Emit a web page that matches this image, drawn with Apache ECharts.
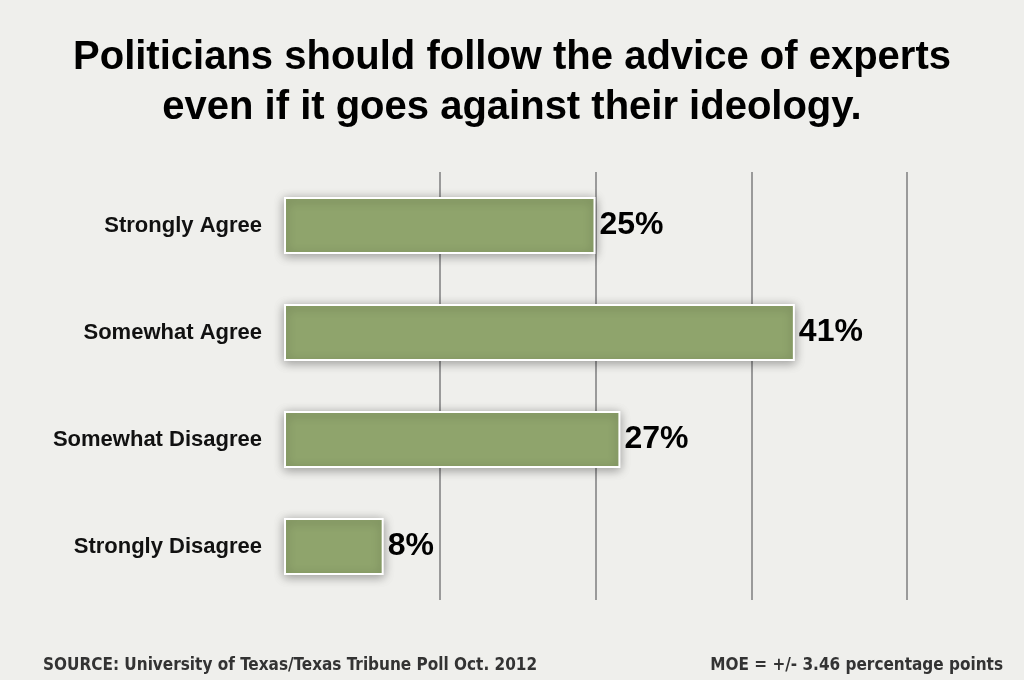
<!DOCTYPE html>
<html>
<head>
<meta charset="utf-8">
<script src="https://cdn.jsdelivr.net/npm/echarts@6/dist/echarts.min.js"></script>
<style>
html, body { margin: 0; padding: 0; background: #efefec; }
#main { width: 1024px; height: 680px; }
</style>
</head>
<body>
<div id="main"></div>
<script>
var categories = ['Strongly Agree', 'Somewhat Agree', 'Somewhat Disagree', 'Strongly Disagree'];
var values = [25, 41, 27, 8];

var chart = echarts.init(document.getElementById('main'));
var option = {
	animation: false,
	backgroundColor: '#efefec',
	title: [{
		text: 'Politicians should follow the advice of experts\neven if it goes against their ideology.',
		left: 'center',
		top: 28,
		textStyle: {
			color: '#000',
			fontSize: 40,
			fontWeight: 'bold',
			fontFamily: 'Liberation Sans, Arial, sans-serif',
			lineHeight: 50
		}
	}, {
		text: 'SOURCE: University of Texas/Texas Tribune Poll Oct. 2012',
		left: 38,
		top: 652,
		textStyle: {
			color: '#333',
			fontSize: 17,
			fontWeight: 'bold',
			fontFamily: 'Liberation Sans Narrow, DejaVu Sans Condensed, sans-serif'
		}
	}, {
		text: 'MOE = +/- 3.46 percentage points',
		right: 16,
		top: 652,
		textStyle: {
			color: '#333',
			fontSize: 17,
			fontWeight: 'bold',
			fontFamily: 'Liberation Sans Narrow, DejaVu Sans Condensed, sans-serif'
		}
	}],
	grid: {
		left: 284,
		right: 117,
		top: 172,
		bottom: 80,
		containLabel: false
	},
	xAxis: {
		type: 'value',
		min: 0,
		max: 50,
		interval: 12.5,
		axisLine: { show: false },
		axisTick: { show: false },
		axisLabel: { show: false },
		splitLine: {
			show: true,
			showMinLine: false,
			lineStyle: { color: '#9a9a9a', width: 2 }
		}
	},
	yAxis: {
		type: 'category',
		inverse: true,
		data: categories,
		axisLine: { show: false },
		axisTick: { show: false },
		axisLabel: {
			margin: 22,
			color: '#111',
			fontSize: 22,
			fontWeight: 'bold',
			fontFamily: 'Liberation Sans, Arial, sans-serif',
			padding: [4, 0, 0, 0]
		}
	},
	series: [{
		type: 'bar',
		data: values,
		barWidth: 57,
		itemStyle: {
			color: '#8fa46c',
			borderColor: '#ffffff',
			borderWidth: 2,
			shadowColor: 'rgba(0,0,0,0.35)',
			shadowBlur: 10,
			shadowOffsetX: 0,
			shadowOffsetY: 2
		},
		label: {
			show: true,
			position: 'right',
			distance: 4,
			formatter: '{c}%',
			color: '#000',
			fontSize: 32,
			fontWeight: 'bold',
			fontFamily: 'Liberation Sans, Arial, sans-serif'
		}
	}]
};
chart.setOption(option);
</script>
</body>
</html>
